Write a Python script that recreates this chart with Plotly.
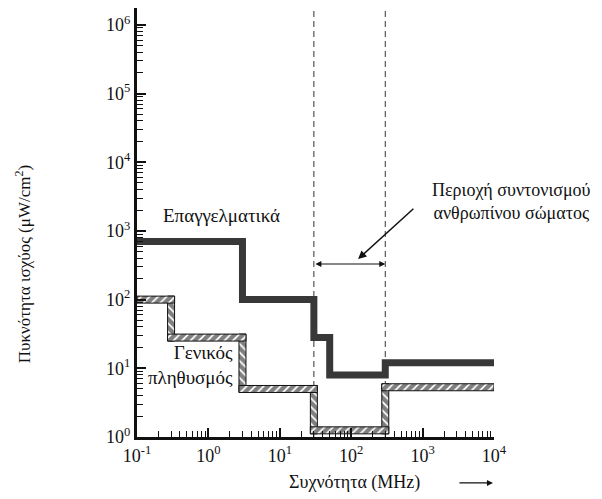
import numpy as np
import plotly.graph_objects as go

# Frequency break points (MHz) and power density levels (µW/cm²) per interval
occ_freq = [0.1, 3, 30, 50, 300, 1e4]
occ_level = [700, 100, 28, 8, 12]

pub_freq = [0.1, 0.3, 3, 30, 300, 1e4]
pub_level = [100, 28, 5, 1.25, 5.3]

# Human-body resonance region (MHz)
resonance = [30, 300]

x_tickvals = [0.1, 1, 10, 100, 1000, 10000]
x_ticktext = ["10<sup>-1</sup>", "10<sup>0</sup>", "10<sup>1</sup>",
              "10<sup>2</sup>", "10<sup>3</sup>", "10<sup>4</sup>"]
y_tickvals = [1, 10, 100, 1e3, 1e4, 1e5, 1e6]
y_ticktext = ["10<sup>0</sup>", "10<sup>1</sup>", "10<sup>2</sup>", "10<sup>3</sup>",
              "10<sup>4</sup>", "10<sup>5</sup>", "10<sup>6</sup>"]

X_RANGE = [-1, 4]
Y_RANGE = [0, 6.245]
SERIF = "Liberation Serif"

W, H = 602, 499
M = dict(l=137, r=108, t=8, b=62)
px_per_dec_x = (W - M["l"] - M["r"]) / (X_RANGE[1] - X_RANGE[0])
px_per_dec_y = (H - M["t"] - M["b"]) / (Y_RANGE[1] - Y_RANGE[0])
half_band = 3.5  # half thickness of the hatched band, px
fx = 10 ** (half_band / px_per_dec_x)
fy = 10 ** (half_band / px_per_dec_y)

fig = go.Figure()

# dashed boundaries of the resonance region
y_top = 10 ** Y_RANGE[1]
for f in resonance:
    fig.add_trace(go.Scatter(x=[f, f], y=[1, y_top], mode="lines",
                             line=dict(color="#333", width=1, dash="6px,4px"),
                             hoverinfo="skip", showlegend=False))

# occupational limit: thick solid step line
fig.add_trace(go.Scatter(x=occ_freq, y=occ_level + [occ_level[-1]],
                         mode="lines", line=dict(color="#383838", width=7, shape="hv"),
                         hoverinfo="skip", showlegend=False))

# general public limit: hatched band built from the step segments
hx, hy = [], []
for i, lvl in enumerate(pub_level):
    x0 = pub_freq[i] / (fx if i > 0 else 1)
    x1 = pub_freq[i + 1] * (fx if i + 1 < len(pub_level) else 1)
    hx += [x0, x1, x1, x0, x0, None]
    hy += [lvl / fy, lvl / fy, lvl * fy, lvl * fy, lvl / fy, None]
vx, vy = [], []
for i in range(1, len(pub_level)):
    f = pub_freq[i]
    lo, hi = sorted([pub_level[i - 1], pub_level[i]])
    vx += [f / fx, f * fx, f * fx, f / fx, f / fx, None]
    vy += [lo / fy, lo / fy, hi * fy, hi * fy, lo / fy, None]

fig.add_trace(go.Scatter(x=vx, y=vy, mode="lines", fill="toself",
                         fillcolor="white", line=dict(color="#111", width=1),
                         fillpattern=dict(shape="\\", fgcolor="#000", bgcolor="white",
                                          size=6, solidity=0.7),
                         hoverinfo="skip", showlegend=False))
fig.add_trace(go.Scatter(x=hx, y=hy, mode="lines", fill="toself",
                         fillcolor="white", line=dict(color="#111", width=1),
                         fillpattern=dict(shape="/", fgcolor="#000", bgcolor="white",
                                          size=6, solidity=0.7),
                         hoverinfo="skip", showlegend=False))

lg = np.log10
ann = []
# double arrow spanning the resonance region
ann.append(dict(x=lg(resonance[1]), y=lg(330), ax=lg(resonance[0]), ay=lg(330),
                xref="x", yref="y", axref="x", ayref="y", text="",
                showarrow=True, arrowhead=2, arrowside="end+start",
                arrowsize=1, arrowwidth=1.2, arrowcolor="#111"))
# pointer from the label to the region
ann.append(dict(x=lg(125), y=lg(390), ax=lg(780), ay=lg(2200),
                xref="x", yref="y", axref="x", ayref="y", text="",
                showarrow=True, arrowhead=2, arrowsize=1.1, arrowwidth=1.5,
                arrowcolor="#111"))
ann.append(dict(x=1.05, y=0.548, xref="paper", yref="paper",
                text="Περιοχή συντονισμού<br>ανθρωπίνου σώματος",
                showarrow=False, xanchor="center", yanchor="middle", align="center",
                font=dict(family=SERIF, size=18, color="#111")))
ann.append(dict(x=0.19, y=3.23, xref="x", yref="y", text="Επαγγελματικά",
                showarrow=False, xanchor="center", yanchor="middle",
                font=dict(family=SERIF, size=19, color="#111")))
ann.append(dict(x=0.373, y=1.05, xref="x", yref="y", text="Γενικός<br>πληθυσμός",
                showarrow=False, xanchor="right", yanchor="middle", align="right",
                font=dict(family=SERIF, size=19, color="#111")))
ann.append(dict(x=-0.319, y=0.403, xref="paper", yref="paper",
                text="Πυκνότητα ισχύος (μW/cm<sup>2</sup>)", textangle=-90,
                showarrow=False, xanchor="center", yanchor="middle",
                font=dict(family=SERIF, size=17, color="#111")))
ann.append(dict(x=0.61, y=-0.107, xref="paper", yref="paper",
                text="Συχνότητα (MHz)", showarrow=False,
                xanchor="center", yanchor="middle",
                font=dict(family=SERIF, size=18, color="#111")))
ann.append(dict(x=0.997, y=-0.107, xref="paper", yref="paper", text="",
                ax=-35, ay=0, showarrow=True, arrowhead=2, arrowsize=1,
                arrowwidth=1.2, arrowcolor="#111"))

tick_font = dict(family=SERIF, size=18, color="#111")
minor_ticks = dict(dtick="D1", ticks="inside", ticklen=6, tickwidth=1.2,
                   tickcolor="#111", showgrid=False)

fig.update_layout(
    width=W, height=H, margin=M,
    paper_bgcolor="white", plot_bgcolor="white",
    annotations=ann,
    xaxis=dict(type="log", range=X_RANGE, tickmode="array", tickvals=x_tickvals,
               ticktext=x_ticktext, ticks="inside", ticklen=9, tickwidth=1.5,
               tickcolor="#111", showgrid=False, zeroline=False,
               showline=True, linewidth=3, linecolor="#111", tickfont=tick_font,
               minor=minor_ticks),
    yaxis=dict(type="log", range=Y_RANGE, tickmode="array", tickvals=y_tickvals,
               ticktext=y_ticktext, ticks="inside", ticklen=9, tickwidth=1.5,
               tickcolor="#111", showgrid=False, zeroline=False,
               showline=True, linewidth=3, linecolor="#111", tickfont=tick_font,
               minor=minor_ticks),
)

fig.write_html("out.html")
